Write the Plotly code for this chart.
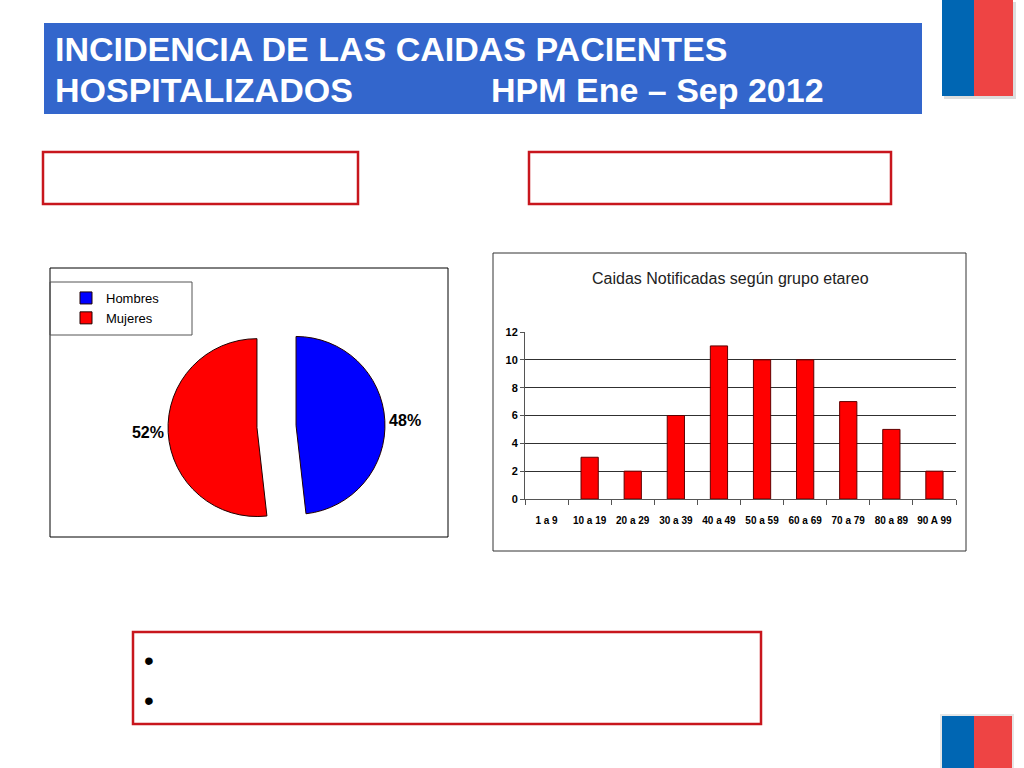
import plotly.graph_objects as go

W, H = 1024, 768

# ---- data ----
sex_labels = ["Hombres", "Mujeres"]
sex_values = [27, 29]
sex_colors = ["#0000FF", "#FF0000"]

age_groups = ["1 a 9", "10 a 19", "20 a 29", "30 a 39", "40 a 49",
              "50 a 59", "60 a 69", "70 a 79", "80 a 89", "90 A 99"]
falls = [0, 3, 2, 6, 11, 10, 10, 7, 5, 2]

title_line1 = "INCIDENCIA DE LAS CAIDAS PACIENTES"
title_line2a = "HOSPITALIZADOS"
title_line2b = "HPM Ene \u2013 Sep 2012"
bar_title = "Caidas Notificadas según grupo etareo"


def px(x):
    return x / W


def py(y):
    return 1 - y / H


def rect(x0, y0, x1, y1, fill=None, line=None, lw=0):
    return dict(type="rect", xref="paper", yref="paper",
                x0=px(x0), x1=px(x1), y0=py(y1), y1=py(y0),
                fillcolor=fill if fill else "rgba(0,0,0,0)",
                line=dict(color=line if line else "rgba(0,0,0,0)", width=lw),
                layer="below")


ARIAL = "Liberation Sans, Arial, sans-serif"

fig = go.Figure()

fig.add_trace(go.Pie(
    labels=sex_labels, values=sex_values,
    marker=dict(colors=sex_colors, line=dict(color="#200000", width=1)),
    sort=False, direction="clockwise", rotation=0,
    pull=[0.22, 0.22],
    textinfo="percent", texttemplate="%{percent:.0%}",
    textposition="outside",
    textfont=dict(family=ARIAL, size=16, color="black", weight="bold"),
    domain=dict(x=[px(168), px(385)], y=[py(535), py(318)]),
    showlegend=True,
))

fig.add_trace(go.Bar(
    x=age_groups, y=falls, width=0.4,
    marker=dict(color="#FF0000",
                line=dict(color="#600000",
                          width=[1 if v > 0 else 0 for v in falls])),
    showlegend=False, xaxis="x", yaxis="y",
))

shapes = [
    # title banner
    rect(44, 23, 922, 114, fill="#3366CC"),
    # top flag
    rect(944, 2, 1016, 99, fill="#DDDDDD"),
    rect(942, 0, 974, 96, fill="#0066B3"),
    rect(974, 0, 1013, 96, fill="#EE4444"),
    # bottom flag
    rect(940, 714, 1014, 768, fill="#E6E6E6"),
    rect(942, 716, 974, 768, fill="#0066B3"),
    rect(974, 716, 1012, 768, fill="#EE4444"),
    # red boxes
    rect(43, 152, 358, 204, line="#C8161D", lw=2.5),
    rect(529, 152, 891, 204, line="#C8161D", lw=2.5),
    rect(133, 632, 761, 724, line="#C8161D", lw=2.5),
    # chart frames
    rect(50, 268, 448, 537, line="#000000", lw=1),
    rect(50, 282, 192, 335, line="#555555", lw=1),
    rect(493, 253, 966, 551, line="#333333", lw=1),
]

annotations = [
    dict(text=title_line1, x=px(53), y=py(49), xanchor="left", yanchor="middle",
         font=dict(family=ARIAL, size=34, color="white", weight="bold")),
    dict(text=title_line2a, x=px(53), y=py(90), xanchor="left", yanchor="middle",
         font=dict(family=ARIAL, size=34, color="white", weight="bold")),
    dict(text=title_line2b, x=px(489), y=py(90), xanchor="left", yanchor="middle",
         font=dict(family=ARIAL, size=34, color="white", weight="bold")),
    dict(text=bar_title, x=px(730), y=py(278), xanchor="center", yanchor="middle",
         font=dict(family=ARIAL, size=16, color="#222222")),
    dict(text="\u2022", x=px(149), y=py(660), xanchor="center", yanchor="middle",
         font=dict(family=ARIAL, size=28, color="black")),
    dict(text="\u2022", x=px(149), y=py(700), xanchor="center", yanchor="middle",
         font=dict(family=ARIAL, size=28, color="black")),
]
for a in annotations:
    a.update(xref="paper", yref="paper", showarrow=False)

fig.update_layout(
    width=W, height=H,
    margin=dict(l=0, r=0, t=0, b=0, autoexpand=False),
    paper_bgcolor="white", plot_bgcolor="white",
    shapes=shapes, annotations=annotations,
    legend=dict(x=px(66), y=py(308), xanchor="left", yanchor="middle",
                bgcolor="rgba(0,0,0,0)", borderwidth=0,
                font=dict(family=ARIAL, size=13, color="black")),
    xaxis=dict(domain=[px(525), px(956)], anchor="y", automargin=False,
               showline=True, linecolor="#555555", linewidth=1,
               ticks="outside", tickson="boundaries", ticklen=5, tickcolor="#555555",
               showgrid=False, tickangle=0, ticklabelstandoff=12,
               tickfont=dict(family=ARIAL, size=10, color="black", weight="bold")),
    yaxis=dict(domain=[py(499), py(332)], anchor="x", range=[0, 12], dtick=2,
               automargin=False,
               showline=True, linecolor="#555555", linewidth=1,
               ticks="outside", ticklen=4, tickcolor="#555555",
               showgrid=True, gridcolor="#303030", gridwidth=1, zeroline=False,
               tickfont=dict(family=ARIAL, size=11, color="black", weight="bold")),
)

fig.write_html("out.html")
